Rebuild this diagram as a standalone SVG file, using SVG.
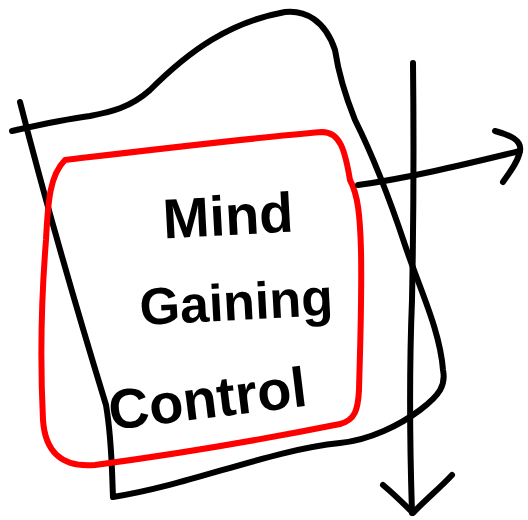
<svg xmlns="http://www.w3.org/2000/svg" width="528" height="520" viewBox="0 0 528 520">
<style>
.ink{fill:none;stroke:#000;stroke-width:6;stroke-linecap:round;stroke-linejoin:round}
.red{fill:none;stroke:#ff0000;stroke-width:6;stroke-linecap:round;stroke-linejoin:round}
.lbl{font-family:"Liberation Sans",Arial,sans-serif;font-weight:bold;fill:#000;text-anchor:middle}
</style>
<rect width="528" height="520" fill="#fff"/>
<g id="outer-shape">
<path class="ink" d="M20,102 C45,200 80,320 106,405 C112,440 112,475 113,497 C190,485 270,450 340,443 C370,440 400,425 420,410 C440,395 446,385 443,370 C440,330 420,290 405,245 C390,200 375,160 355,120 C345,95 338,70 335,50 C325,20 305,10 285,12 C230,22 190,50 150,90 C130,108 110,112 90,116 C60,120 30,127 12,131"/>
</g>
<g id="red-box">
<path class="red" d="M65,160 C150,150 250,138 322,132 C340,132 345,150 350,180 C358,195 360,215 361,250 C362,300 360,350 359,390 C358,410 355,420 340,424 C260,440 170,455 95,465 C60,468 45,450 43,420 C40,360 42,290 46,240 C48,200 50,175 65,160 Z"/>
</g>
<g id="labels">
<text class="lbl" x="228" y="235" font-size="56" transform="rotate(-3 228 215)">Mind</text>
<text class="lbl" x="236" y="320" font-size="52" transform="rotate(-3 236 300)">Gaining</text>
<text class="lbl" x="207" y="418" font-size="56" transform="rotate(-7 207 395)">Control</text>
</g>
<g id="connectors">
<path class="ink" d="M413,63 C414,150 413,250 412,300 C410,350 409,420 412,513"/>
<path class="ink" d="M383,485 C395,495 405,505 413,513 C425,500 440,488 452,475"/>
<path class="ink" d="M358,185 C410,178 470,163 520,151"/>
<path class="ink" d="M495,131 C510,135 522,140 520,151 C518,162 510,172 503,182"/>
</g>
</svg>
